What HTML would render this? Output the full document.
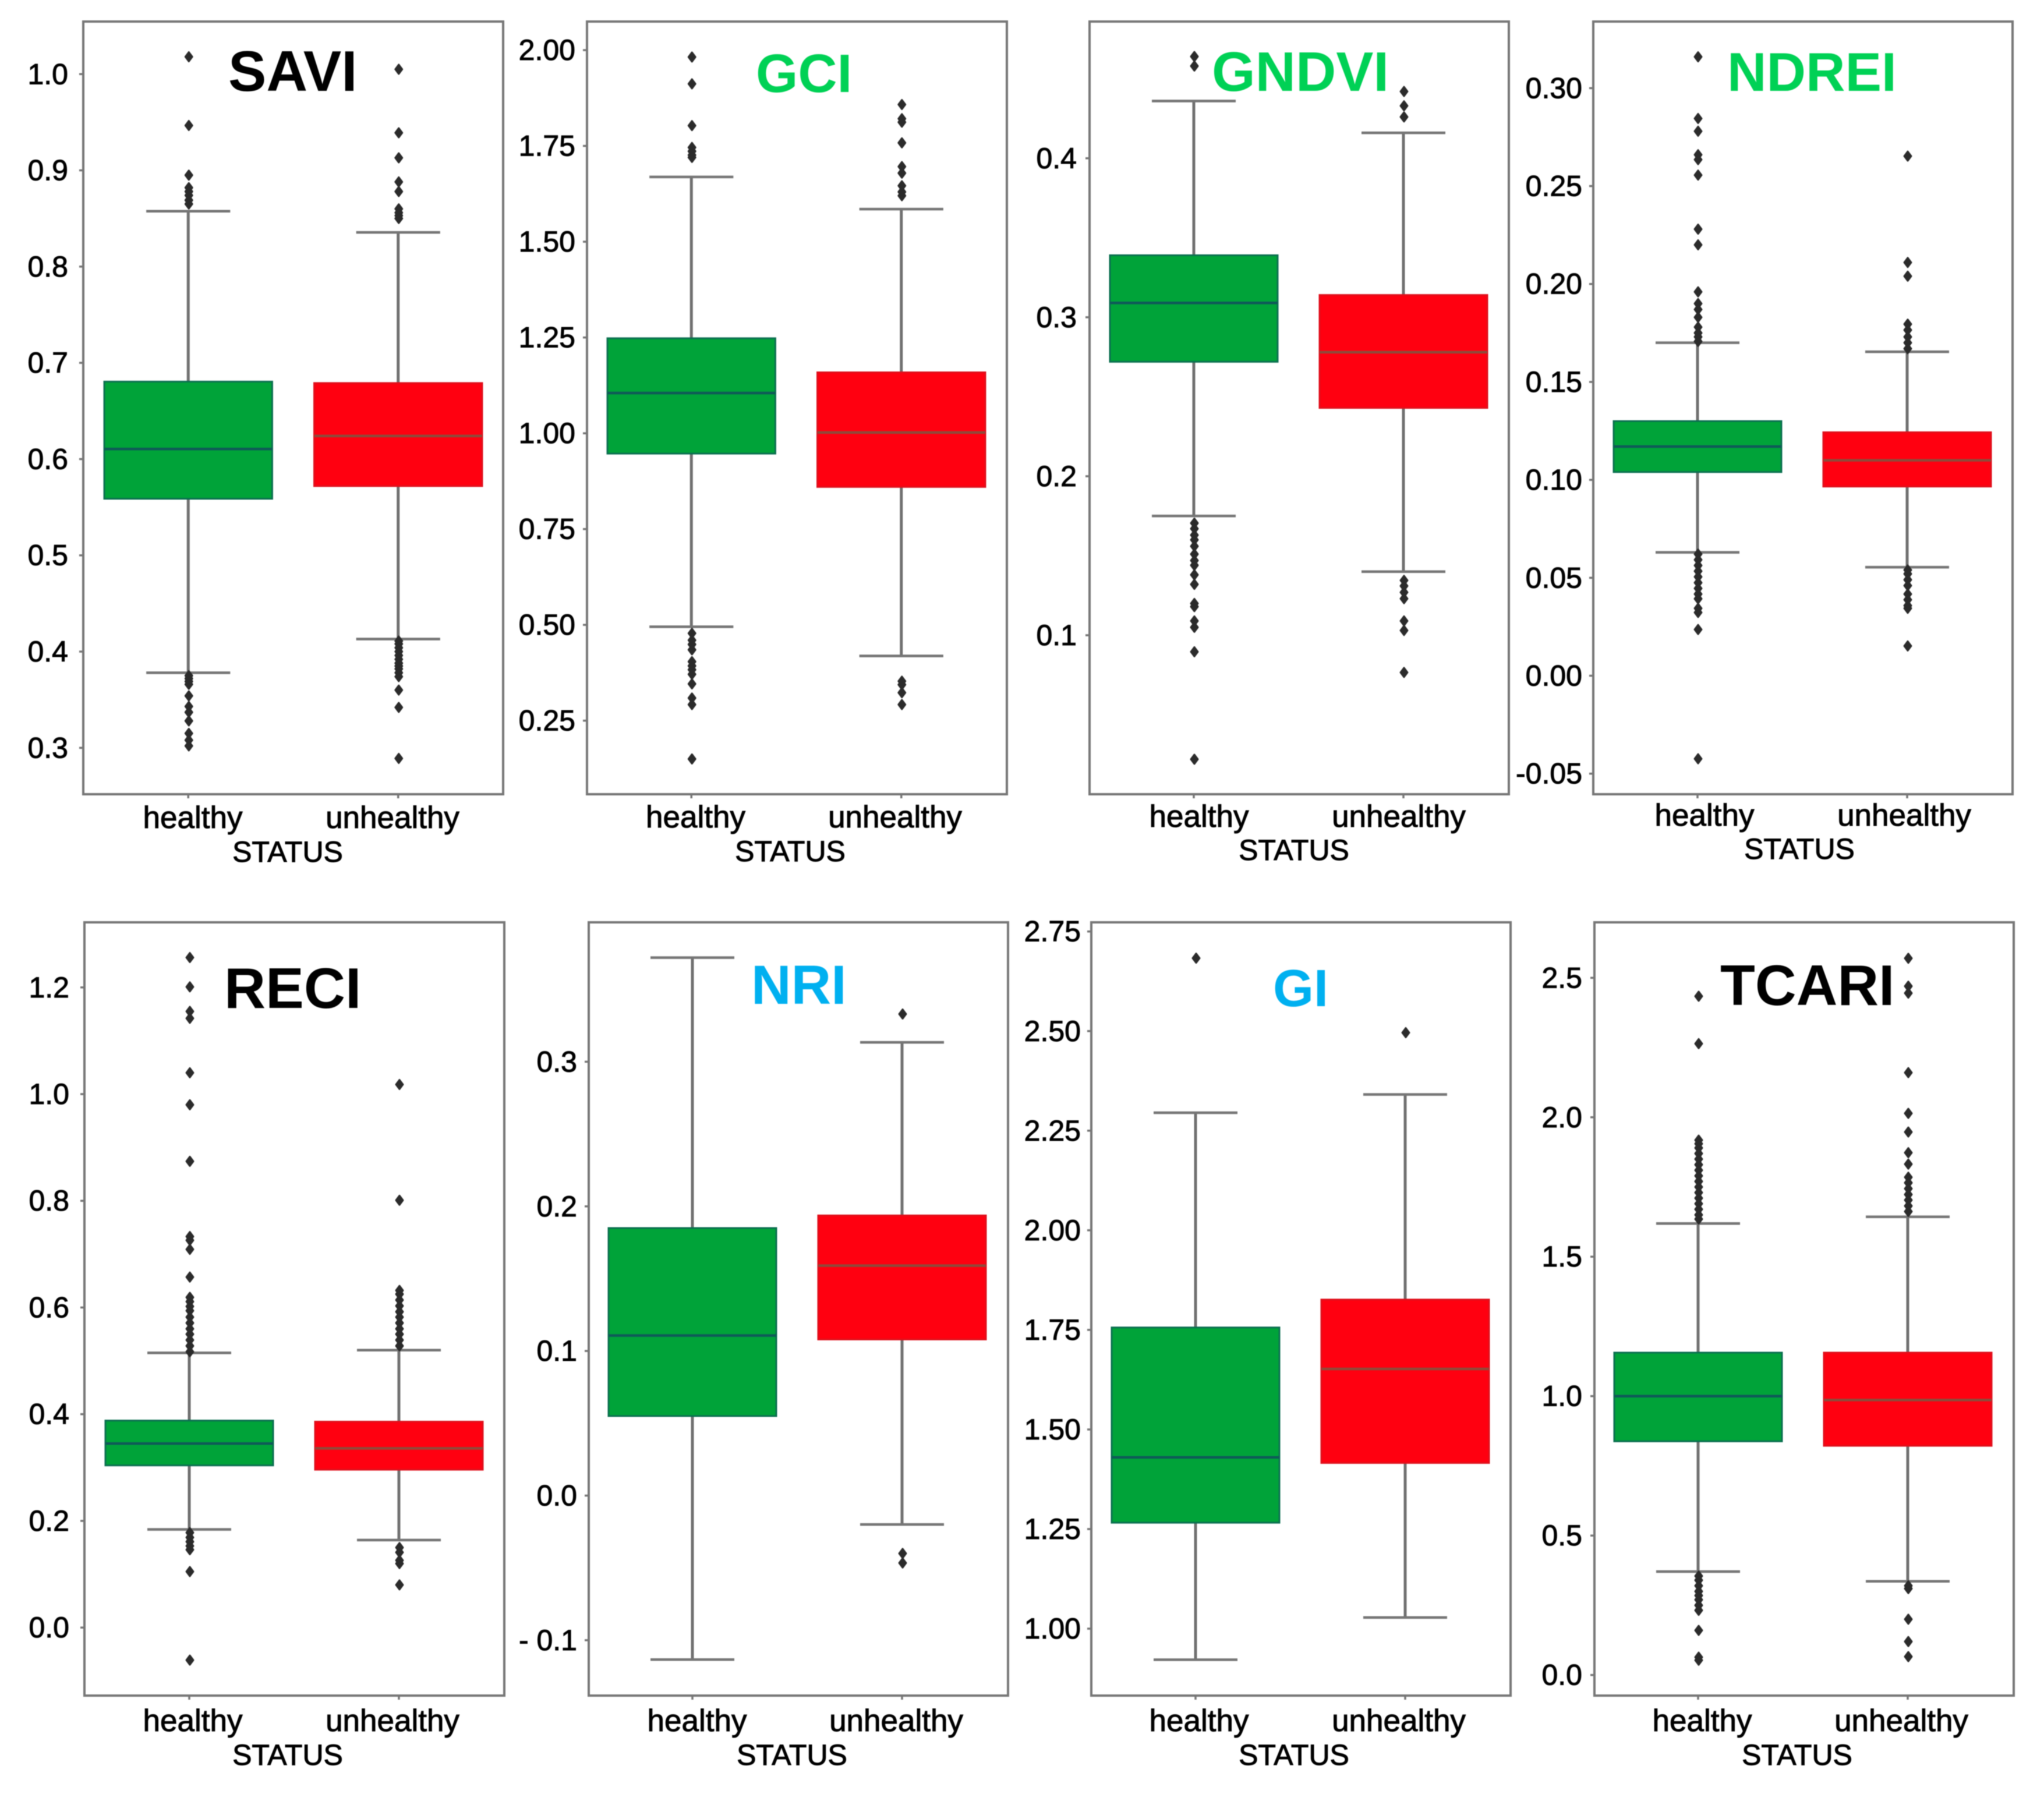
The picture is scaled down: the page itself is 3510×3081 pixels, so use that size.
<!DOCTYPE html>
<html lang="en">
<head>
<meta charset="utf-8">
<title>Vegetation index box plots by status</title>
<style>
  html, body { margin: 0; padding: 0; background: #fff; }
  svg { display: block; font-family: "Liberation Sans", sans-serif; filter: blur(0.8px); }
  text { paint-order: stroke; }
</style>
</head>
<body>
<svg id="chart" xmlns="http://www.w3.org/2000/svg" width="3510" height="3081" viewBox="0 0 3510 3081"></svg>
<script>
const categories = ['healthy', 'unhealthy'];
const xAxisTitle = 'STATUS';

// Each box array: [lower whisker, Q1, median, Q3, upper whisker]
const saviTicks = ['1.0','0.9','0.8','0.7','0.6','0.5','0.4','0.3'];
const saviDomain = [0.2518, 1.0546];
const saviHealthyBox = [0.378, 0.5588, 0.6105, 0.6805, 0.8575];
const saviUnhealthyBox = [0.413, 0.572, 0.624, 0.679, 0.8355];
const saviHealthyOut = [1.018,0.9466,0.895,0.882,0.878,0.874,0.869,0.865,0.375,0.372,0.369,0.366,0.354,0.343,0.337,0.328,0.315,0.308,0.302];
const saviUnhealthyOut = [1.005,0.939,0.913,0.888,0.878,0.86,0.856,0.853,0.85,0.411,0.408,0.404,0.4,0.396,0.392,0.388,0.385,0.382,0.378,0.374,0.36,0.342,0.289];

const gciTicks = ['2.00','1.75','1.50','1.25','1.00','0.75','0.50','0.25'];
const gciDomain = [0.058, 2.0746];
const gciHealthyBox = [0.495, 0.947, 1.105, 1.248, 1.669];
const gciUnhealthyBox = [0.419, 0.86, 1.002, 1.159, 1.585];
const gciHealthyOut = [1.982,1.912,1.803,1.746,1.736,1.726,1.72,0.478,0.46,0.449,0.435,0.404,0.393,0.383,0.371,0.346,0.309,0.292,0.15];
const gciUnhealthyOut = [1.858,1.821,1.812,1.758,1.696,1.679,1.646,1.63,1.62,0.353,0.344,0.323,0.292];

const gndviTicks = ['0.4','0.3','0.2','0.1'];
const gndviDomain = [0, 0.486];
const gndviHealthyBox = [0.175, 0.272, 0.309, 0.339, 0.436];
const gndviUnhealthyBox = [0.14, 0.243, 0.278, 0.314, 0.416];
const gndviHealthyOut = [0.464,0.458,0.1705,0.167,0.163,0.16,0.156,0.151,0.147,0.144,0.138,0.132,0.12,0.118,0.109,0.105,0.0896,0.022];
const gndviUnhealthyOut = [0.442,0.433,0.426,0.1345,0.131,0.127,0.123,0.109,0.103,0.0766];

const ndreiTicks = ['0.30','0.25','0.20','0.15','0.10','0.05','0.00','-0.05'];
const ndreiDomain = [-0.0605, 0.334];
const ndreiHealthyBox = [0.063, 0.104, 0.117, 0.13, 0.17];
const ndreiUnhealthyBox = [0.0554, 0.0966, 0.11, 0.1243, 0.1654];
const ndreiHealthyOut = [0.316,0.2845,0.278,0.266,0.2635,0.2556,0.228,0.22,0.196,0.19,0.187,0.183,0.178,0.175,0.173,0.1707,0.0621,0.0592,0.0563,0.0534,0.0505,0.0475,0.0446,0.0417,0.0393,0.0344,0.0323,0.0236,-0.0424];
const ndreiUnhealthyOut = [0.2653,0.211,0.204,0.1795,0.1765,0.173,0.17,0.167,0.054,0.052,0.049,0.046,0.0417,0.0388,0.0358,0.0344,0.0152];

const reciTicks = ['1.2','1.0','0.8','0.6','0.4','0.2','0.0'];
const reciDomain = [-0.1275, 1.322];
const reciHealthyBox = [0.184, 0.304, 0.345, 0.388, 0.515];
const reciUnhealthyBox = [0.164, 0.296, 0.336, 0.386, 0.52];
const reciHealthyOut = [1.256,1.201,1.155,1.142,1.04,0.98,0.874,0.733,0.726,0.709,0.657,0.619,0.611,0.602,0.594,0.582,0.571,0.56,0.55,0.539,0.528,0.517,0.178,0.169,0.161,0.153,0.146,0.105,-0.061];
const reciUnhealthyOut = [1.018,0.801,0.632,0.625,0.614,0.603,0.592,0.582,0.571,0.56,0.55,0.539,0.528,0.15,0.141,0.126,0.12,0.08];

const nriTicks = ['0.3','0.2','0.1','0.0','- 0.1'];
const nriDomain = [-0.1383, 0.3964];
const nriHealthyBox = [-0.1134, 0.055, 0.1107, 0.185, 0.372];
const nriUnhealthyBox = [-0.02, 0.108, 0.159, 0.1937, 0.3134];
const nriHealthyOut = [];
const nriUnhealthyOut = [0.333,-0.04,-0.0466];

const giTicks = ['2.75','2.50','2.25','2.00','1.75','1.50','1.25','1.00'];
const giDomain = [0.832, 2.773];
const giHealthyBox = [0.922, 1.266, 1.43, 1.756, 2.295];
const giUnhealthyBox = [1.028, 1.416, 1.652, 1.826, 2.341];
const giHealthyOut = [2.683];
const giUnhealthyOut = [2.496];

const tcariTicks = ['2.5','2.0','1.5','1.0','0.5','0.0'];
const tcariDomain = [-0.0738, 2.699];
const tcariHealthyBox = [0.371, 0.838, 1.0, 1.156, 1.619];
const tcariUnhealthyBox = [0.336, 0.822, 0.986, 1.156, 1.643];
const tcariHealthyOut = [2.434,2.264,1.918,1.905,1.89,1.87,1.85,1.83,1.81,1.79,1.77,1.75,1.73,1.71,1.69,1.67,1.65,1.635,0.355,0.34,0.32,0.30,0.285,0.27,0.25,0.232,0.16,0.064,0.053];
const tcariUnhealthyOut = [2.57,2.47,2.445,2.16,2.014,1.947,1.873,1.832,1.785,1.765,1.744,1.723,1.703,1.682,1.662,0.32,0.31,0.2,0.12,0.066];

const BLACK = '#000000', GREEN = '#00d155', BLUE = '#00b0f0';

// fl/fr: frame edges; l/r: edges used for placing the two categories
const panels = [
  { key:'savi', title:'SAVI', color:BLACK, size:98, tx:392, ty:156, fl:143, fr:864, l:143, r:864, t:37, b:1364, gap:26, hx:331, ux:674, sx:494, ly:1422, sy:1480,
    ticks:saviTicks, domain:saviDomain, hBox:saviHealthyBox, uBox:saviUnhealthyBox, hOut:saviHealthyOut, uOut:saviUnhealthyOut },
  { key:'gci', title:'GCI', color:GREEN, size:93, tx:1298, ty:158, fl:1008, fr:1729, l:1007, r:1728, t:37, b:1364, gap:20, hx:1194.5, ux:1537, sx:1357, ly:1421, sy:1479,
    ticks:gciTicks, domain:gciDomain, hBox:gciHealthyBox, uBox:gciUnhealthyBox, hOut:gciHealthyOut, uOut:gciUnhealthyOut },
  { key:'gndvi', title:'GNDVI', color:GREEN, size:96, tx:2081, ty:156, fl:1871, fr:2591, l:1870, r:2590, t:37, b:1364, gap:22, hx:2059, ux:2402, sx:2222, ly:1420, sy:1477,
    ticks:gndviTicks, domain:gndviDomain, hBox:gndviHealthyBox, uBox:gndviUnhealthyBox, hOut:gndviHealthyOut, uOut:gndviUnhealthyOut },
  { key:'ndrei', title:'NDREI', color:GREEN, size:93.5, tx:2966, ty:156, fl:2736, fr:3456, l:2735, r:3455, t:37, b:1364, gap:19, hx:2927, ux:3270, sx:3090, ly:1418, sy:1475,
    ticks:ndreiTicks, domain:ndreiDomain, hBox:ndreiHealthyBox, uBox:ndreiUnhealthyBox, hOut:ndreiHealthyOut, uOut:ndreiUnhealthyOut },
  { key:'reci', title:'RECI', color:BLACK, size:98.5, tx:385, ty:1731, fl:145, fr:866, l:145, r:865, t:1584, b:2912, gap:26, hx:331, ux:674, sx:494, ly:2973, sy:3031,
    ticks:reciTicks, domain:reciDomain, hBox:reciHealthyBox, uBox:reciUnhealthyBox, hOut:reciHealthyOut, uOut:reciUnhealthyOut },
  { key:'nri', title:'NRI', color:BLUE, size:95, tx:1290, ty:1724, fl:1011, fr:1731, l:1009, r:1729, t:1584, b:2912, gap:20, hx:1197, ux:1539, sx:1360, ly:2973, sy:3031,
    ticks:nriTicks, domain:nriDomain, hBox:nriHealthyBox, uBox:nriUnhealthyBox, hOut:nriHealthyOut, uOut:nriUnhealthyOut },
  { key:'gi', title:'GI', color:BLUE, size:90, tx:2186, ty:1728, fl:1874, fr:2594, l:1873, r:2593, t:1584, b:2912, gap:18, hx:2059, ux:2402, sx:2222, ly:2973, sy:3031,
    ticks:giTicks, domain:giDomain, hBox:giHealthyBox, uBox:giUnhealthyBox, hOut:giHealthyOut, uOut:giUnhealthyOut },
  { key:'tcari', title:'TCARI', color:BLACK, size:98, tx:2954, ty:1726, fl:2738, fr:3458, l:2736, r:3456, t:1584, b:2912, gap:21, hx:2923, ux:3265, sx:3086, ly:2973, sy:3031,
    ticks:tcariTicks, domain:tcariDomain, hBox:tcariHealthyBox, uBox:tcariUnhealthyBox, hOut:tcariHealthyOut, uOut:tcariUnhealthyOut }
];

const NS = 'http://www.w3.org/2000/svg';
const root = document.getElementById('chart');

function make(tag, attrs, parent) {
  const el = document.createElementNS(NS, tag);
  for (const k in attrs) el.setAttribute(k, attrs[k]);
  parent.appendChild(el);
  return el;
}

function drawBox(g, box, outliers, cx, width, capWidth, yScale, style, catName) {
  const [lo, q1, med, q3, hi] = box;

  const whisker = make('line', { x1: cx, x2: cx, y1: yScale(hi), y2: yScale(lo), stroke: '#707070', 'stroke-width': 5 }, g);
  
  

  const capHi = make('line', { x1: cx - capWidth / 2, x2: cx + capWidth / 2, y1: yScale(hi), y2: yScale(hi), stroke: '#767676', 'stroke-width': 4.5 }, g);
  
  

  const capLo = make('line', { x1: cx - capWidth / 2, x2: cx + capWidth / 2, y1: yScale(lo), y2: yScale(lo), stroke: '#767676', 'stroke-width': 4.5 }, g);
  
  

  const rect = make('rect', { x: cx - width / 2, y: yScale(q3), width: width, height: yScale(q1) - yScale(q3), fill: style.fill, stroke: style.edge, 'stroke-width': 3 }, g);
  
  

  const median = make('line', { x1: cx - width / 2, x2: cx + width / 2, y1: yScale(med), y2: yScale(med), stroke: style.median, 'stroke-width': 4.5 }, g);
  
  

  outliers.forEach(function (v) {
    const y = yScale(v);
    const px = cx + 1;
    const pts = (px) + ',' + (y - 8) + ' ' + (px + 6) + ',' + y + ' ' + (px) + ',' + (y + 8) + ' ' + (px - 6) + ',' + y;
    const dot = make('polygon', { points: pts, fill: '#2b2b2b', stroke: '#2b2b2b', 'stroke-width': 3, 'stroke-linejoin': 'round' }, g);
    
    
  });
}

const greenStyle = { fill: '#00a339', edge: '#0b7050', median: '#0f5a58' };
const redStyle = { fill: '#ff0010', edge: '#e0101c', median: '#8f4a3a' };

panels.forEach(function (p) {
  const g = make('g', {}, root);
  
  

  const yScale = function (v) {
    return p.t + (p.domain[1] - v) / (p.domain[1] - p.domain[0]) * (p.b - p.t);
  };
  const w = p.r - p.l;
  const cxH = p.l + w * 0.25;
  const cxU = p.l + w * 0.75;
  const boxW = w * 0.4;
  const capW = w * 0.2;

  const frame = make('rect', { x: p.fl, y: p.t, width: p.fr - p.fl, height: p.b - p.t, fill: '#fff', stroke: '#777', 'stroke-width': 4 }, g);
  
  

  p.ticks.forEach(function (label) {
    const v = parseFloat(label.replace(/\s/g, ''));
    const y = yScale(v);
    const tick = make('line', { x1: p.fl - 7, x2: p.fl, y1: y, y2: y, stroke: '#777', 'stroke-width': 3.5 }, g);
    
    
    const t = make('text', { x: p.fl - p.gap, y: y + 17, 'text-anchor': 'end', 'font-size': 50, fill: '#000', stroke: '#000', 'stroke-width': 1 }, g);
    t.textContent = label;
    
    
  });

  drawBox(g, p.hBox, p.hOut, cxH, boxW, capW, yScale, greenStyle, p.key + '-healthy');
  drawBox(g, p.uBox, p.uOut, cxU, boxW, capW, yScale, redStyle, p.key + '-unhealthy');

  [cxH, cxU].forEach(function (cx) {
    const tick = make('line', { x1: cx, x2: cx, y1: p.b, y2: p.b + 7, stroke: '#777', 'stroke-width': 3.5 }, g);
    
    
  });

  const lh = make('text', { x: p.hx, y: p.ly, 'text-anchor': 'middle', 'font-size': 53, fill: '#000', stroke: '#000', 'stroke-width': 1 }, g);
  lh.textContent = categories[0];
  
  

  const lu = make('text', { x: p.ux, y: p.ly, 'text-anchor': 'middle', 'font-size': 53, fill: '#000', stroke: '#000', 'stroke-width': 1 }, g);
  lu.textContent = categories[1];
  
  

  const st = make('text', { x: p.sx, y: p.sy, 'text-anchor': 'middle', 'font-size': 50, fill: '#000', stroke: '#000', 'stroke-width': 1 }, g);
  st.textContent = xAxisTitle;
  
  

  const title = make('text', { x: p.tx, y: p.ty, 'font-size': p.size, 'font-weight': 'bold', fill: p.color }, g);
  title.textContent = p.title;
  
  
});
</script>
</body>
</html>
